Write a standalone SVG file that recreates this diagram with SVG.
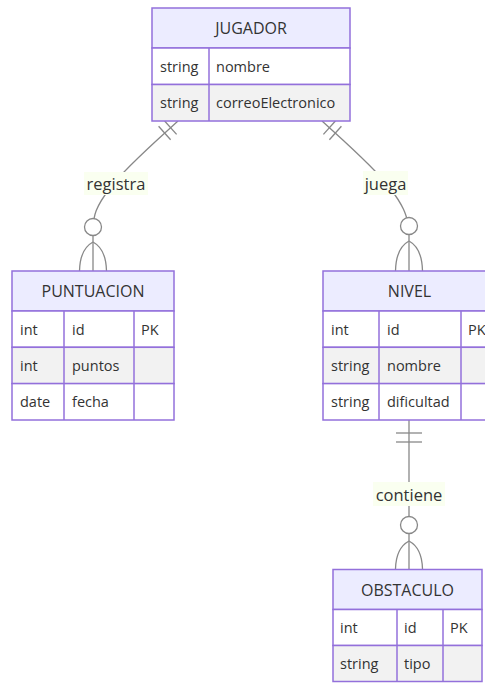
<svg xmlns="http://www.w3.org/2000/svg" width="485" height="683" viewBox="0 0 485 683">
<style>
.hdr{fill:#ececff;stroke:#9370db;stroke-width:1.5}
.odd{fill:#ffffff;stroke:#9370db;stroke-width:1.5}
.even{fill:#f2f2f2;stroke:#9370db;stroke-width:1.5}
.div{stroke:#9370db;stroke-width:1.5}
.t{font-family:"Open Sans","Liberation Sans",sans-serif;font-size:14.5px;fill:#333;dominant-baseline:central}
.title{font-size:16px;text-anchor:middle}
.lbl{font-family:"Open Sans","Liberation Sans",sans-serif;font-size:16.5px;fill:#333;text-anchor:middle;dominant-baseline:central}
.lblbg{fill:#fafff0}
.rel{fill:none;stroke:#888;stroke-width:1.3}
.ring{fill:#ffffff;stroke:#888;stroke-width:1.3}
</style>
<rect width="485" height="683" fill="#ffffff"/>
<g id="connectors">
  <g id="rel-registra">
    <path class="rel" d="M178,121 C155,142 125,168 110,188 S94,215 93,227 L93,271"/>
    <line class="rel" x1="164.6" y1="121" x2="176.6" y2="134.4"/>
    <line class="rel" x1="158.6" y1="126.3" x2="170.6" y2="139.7"/>
    <circle class="ring" cx="93" cy="227" r="8.5"/>
    <path class="rel" d="M93,242 Q80,249 79.5,271 M93,242 Q106,249 106.5,271"/>
    <rect class="lblbg" x="84" y="172" width="64" height="23"/>
    <text class="lbl" x="116" y="183.5">registra</text>
  </g>
  <g id="rel-juega">
    <path class="rel" d="M322,121 C345,142 375,168 390,188 S406,215 409,226 L409,271"/>
    <line class="rel" x1="335.4" y1="121" x2="323.4" y2="134.4"/>
    <line class="rel" x1="341.4" y1="126.3" x2="329.4" y2="139.7"/>
    <circle class="ring" cx="409" cy="226" r="8.5"/>
    <path class="rel" d="M409,241 Q396,248 395.5,271 M409,241 Q422,248 422.5,271"/>
    <rect class="lblbg" x="363" y="171" width="45" height="24"/>
    <text class="lbl" x="385.5" y="183">juega</text>
  </g>
  <g id="rel-contiene">
    <line class="rel" x1="409" y1="420" x2="409" y2="569"/>
    <line class="rel" x1="396" y1="433" x2="422" y2="433"/>
    <line class="rel" x1="396" y1="442" x2="422" y2="442"/>
    <circle class="ring" cx="409" cy="525" r="8.5"/>
    <path class="rel" d="M409,541 Q396,548 395.5,569 M409,541 Q422,548 422.5,569"/>
    <rect class="lblbg" x="373" y="482" width="72" height="24"/>
    <text class="lbl" x="409" y="494">contiene</text>
  </g>
</g>
<g id="JUGADOR">
  <rect class="hdr" x="152" y="8" width="198" height="40"/>
  <rect class="odd" x="152" y="48" width="198" height="36.5"/>
  <rect class="even" x="152" y="84.5" width="198" height="36.5"/>
  <line class="div" x1="209" y1="48" x2="209" y2="121"/>
  <text class="t title" x="251" y="28">JUGADOR</text>
  <text class="t" x="160" y="66.3">string</text>
  <text class="t" x="216" y="66.3">nombre</text>
  <text class="t" x="160" y="102.8">string</text>
  <text class="t" x="216" y="102.8">correoElectronico</text>
</g>
<g id="PUNTUACION">
  <rect class="hdr" x="12" y="271" width="162" height="40"/>
  <rect class="odd" x="12" y="311" width="162" height="36.3"/>
  <rect class="even" x="12" y="347.3" width="162" height="36.3"/>
  <rect class="odd" x="12" y="383.6" width="162" height="36.4"/>
  <line class="div" x1="64" y1="311" x2="64" y2="420"/>
  <line class="div" x1="134" y1="311" x2="134" y2="420"/>
  <text class="t title" x="93" y="291">PUNTUACION</text>
  <text class="t" x="20" y="329.2">int</text>
  <text class="t" x="72" y="329.2">id</text>
  <text class="t" x="141" y="329.2">PK</text>
  <text class="t" x="20" y="365.5">int</text>
  <text class="t" x="72" y="365.5">puntos</text>
  <text class="t" x="20" y="401.8">date</text>
  <text class="t" x="72" y="401.8">fecha</text>
</g>
<g id="NIVEL">
  <rect class="hdr" x="323" y="271" width="173" height="40"/>
  <rect class="odd" x="323" y="311" width="173" height="36.3"/>
  <rect class="even" x="323" y="347.3" width="173" height="36.3"/>
  <rect class="odd" x="323" y="383.6" width="173" height="36.4"/>
  <line class="div" x1="379" y1="311" x2="379" y2="420"/>
  <line class="div" x1="461" y1="311" x2="461" y2="420"/>
  <text class="t title" x="409.5" y="291">NIVEL</text>
  <text class="t" x="331" y="329.2">int</text>
  <text class="t" x="387" y="329.2">id</text>
  <text class="t" x="468" y="329.2">PK</text>
  <text class="t" x="331" y="365.5">string</text>
  <text class="t" x="387" y="365.5">nombre</text>
  <text class="t" x="331" y="401.8">string</text>
  <text class="t" x="387" y="401.8">dificultad</text>
</g>
<g id="OBSTACULO">
  <rect class="hdr" x="333" y="569.5" width="149" height="40"/>
  <rect class="odd" x="333" y="609.5" width="149" height="36"/>
  <rect class="even" x="333" y="645.5" width="149" height="36"/>
  <line class="div" x1="397" y1="609.5" x2="397" y2="681.5"/>
  <line class="div" x1="443" y1="609.5" x2="443" y2="681.5"/>
  <text class="t title" x="407.5" y="589.5">OBSTACULO</text>
  <text class="t" x="340" y="627.5">int</text>
  <text class="t" x="404" y="627.5">id</text>
  <text class="t" x="450" y="627.5">PK</text>
  <text class="t" x="340" y="663.5">string</text>
  <text class="t" x="404" y="663.5">tipo</text>
</g>
</svg>
